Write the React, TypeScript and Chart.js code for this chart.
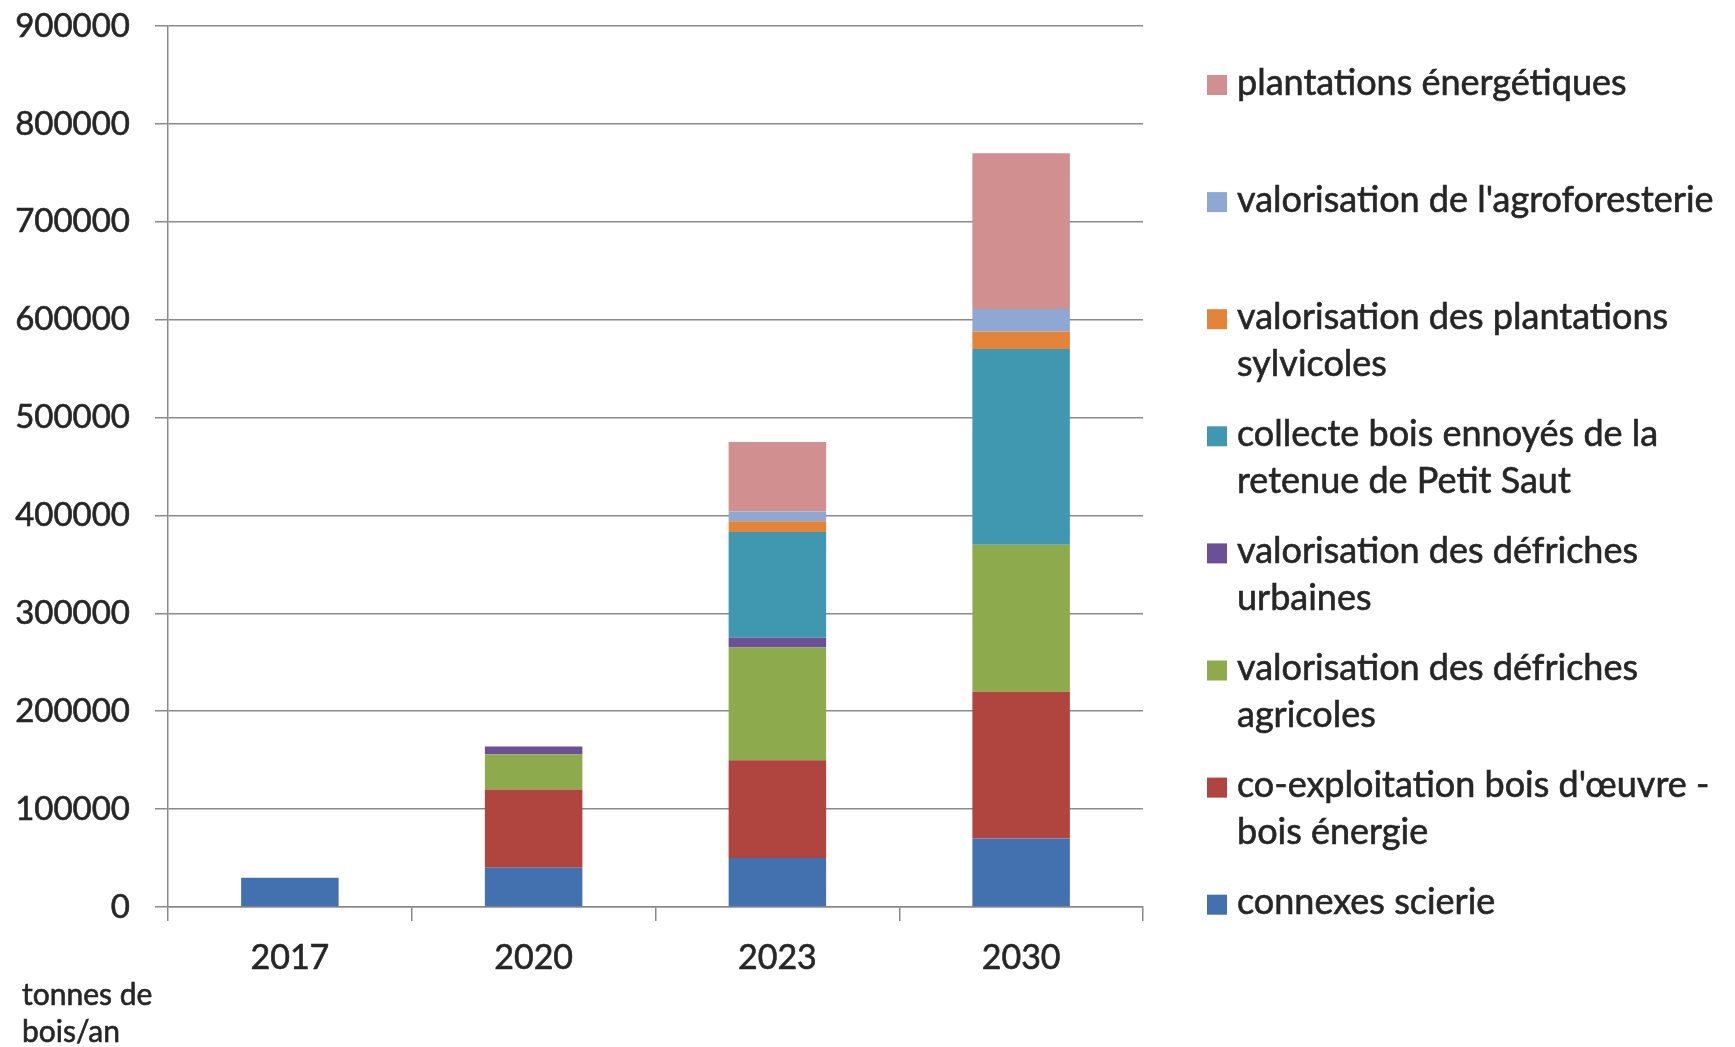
import React, { useEffect, useRef } from "react";
import { Chart, registerables } from "chart.js";

Chart.register(...registerables);

const categories = ["2017", "2020", "2023", "2030"];

const connexesScierie = [30000, 40000, 50000, 70000];
const coExploitation = [0, 80000, 100000, 150000];
const defrichesAgricoles = [0, 36000, 115000, 150000];
const defrichesUrbaines = [0, 8000, 10000, 0];
const collecteBoisEnnoyes = [0, 0, 108000, 200000];
const plantationsSylvicoles = [0, 0, 11000, 18000];
const agroforesterie = [0, 0, 10000, 23000];
const plantationsEnergetiques = [0, 0, 71000, 159000];

const yTicks = [0, 100000, 200000, 300000, 400000, 500000, 600000, 700000, 800000, 900000];

const seriesLabels: string[][] = [
  ["connexes scierie"],
  ["co-exploitation bois d'œuvre -", "bois énergie"],
  ["valorisation des défriches", "agricoles"],
  ["valorisation des défriches", "urbaines"],
  ["collecte bois ennoyés de la", "retenue de Petit Saut"],
  ["valorisation des plantations", "sylvicoles"],
  ["valorisation de l'agroforesterie"],
  ["plantations énergétiques"],
];

const seriesValues = [
  connexesScierie,
  coExploitation,
  defrichesAgricoles,
  defrichesUrbaines,
  collecteBoisEnnoyes,
  plantationsSylvicoles,
  agroforesterie,
  plantationsEnergetiques,
];

const seriesColors = [
  "#4370AE",
  "#B0443F",
  "#8DAA4C",
  "#6B5096",
  "#4098B0",
  "#E3843A",
  "#8FA8D3",
  "#D18F8F",
];

const axisTitleLines = ["tonnes de", "bois/an"];

const FONT = "Lato, 'Open Sans', sans-serif";
const TEXT = "#262626";
const GRID = "#8a8a8a";

const legendPlugin = {
  id: "sideLegend",
  afterDraw(chart: any) {
    const ctx = chart.ctx as CanvasRenderingContext2D;
    ctx.save();
    ctx.font = `36px ${FONT}`;
    ctx.textBaseline = "middle";
    ctx.textAlign = "left";
    ctx.strokeStyle = TEXT;
    ctx.lineWidth = 0.6;
    const n = chart.data.datasets.length;
    const x0 = 1207;
    const textX = 1237;
    const top = 83;
    const step = 117.1;
    const lineH = 47;
    for (let i = 0; i < n; i++) {
      const ds = chart.data.datasets[n - 1 - i];
      const lines = seriesLabels[n - 1 - i];
      const y = top + i * step;
      ctx.fillStyle = ds.backgroundColor as string;
      ctx.fillRect(x0, y - 8, 20, 20);
      ctx.fillStyle = TEXT;
      lines.forEach((t, j) => {
        ctx.fillText(t, textX, y + j * lineH);
        ctx.strokeText(t, textX, y + j * lineH);
      });
    }
    // axis unit title
    ctx.font = `30px ${FONT}`;
    ctx.textBaseline = "alphabetic";
    axisTitleLines.forEach((t, j) => {
      ctx.fillText(t, 22, 1005 + j * 37);
      ctx.strokeText(t, 22, 1005 + j * 37);
    });
    ctx.restore();
  },
};

export default function App() {
  const ref = useRef<HTMLCanvasElement | null>(null);
  useEffect(() => {
    if (!ref.current) return;
    const chart = new Chart(ref.current, {
      type: "bar",
      data: {
        labels: categories,
        datasets: seriesValues.map((vals, i) => ({
          label: seriesLabels[i].join(" "),
          data: vals,
          backgroundColor: seriesColors[i],
          borderWidth: 0,
          barPercentage: 0.4,
          categoryPercentage: 1,
        })),
      },
      options: {
        responsive: false,
        animation: false,
        layout: { padding: { left: 0, top: 26, right: 592, bottom: 0 } },
        plugins: {
          legend: { display: false },
          tooltip: { enabled: false },
          title: { display: false },
        },
        scales: {
          x: {
            stacked: true,
            offset: true,
            grid: {
              display: true,
              drawOnChartArea: false,
              drawTicks: true,
              tickLength: 14,
              offset: true,
              color: GRID,
              lineWidth: 1.5,
            },
            border: { display: true, color: GRID, width: 1.5 },
            ticks: {
              color: TEXT,
              font: { family: FONT, size: 34 },
              padding: 17,
              textStrokeColor: TEXT,
              textStrokeWidth: 0.6,
            },
            afterFit: (s: any) => {
              s.height = 140;
            },
          },
          y: {
            stacked: true,
            min: 0,
            max: 900000,
            afterBuildTicks: (s: any) => {
              s.ticks = yTicks.map((v) => ({ value: v }));
            },
            grid: {
              color: GRID,
              lineWidth: 1.5,
              drawTicks: true,
              tickLength: 13,
            },
            border: { display: true, color: GRID, width: 1.5 },
            ticks: {
              color: TEXT,
              font: { family: FONT, size: 33 },
              padding: 25,
              textStrokeColor: TEXT,
              textStrokeWidth: 0.6,
              callback: (v: any) => String(v),
            },
            afterFit: (s: any) => {
              s.width = 168;
              s.paddingTop = 0;
              s.paddingBottom = 0;
            },
          },
        },
      },
      plugins: [legendPlugin],
    });
    return () => chart.destroy();
  }, []);
  return (
    <div style={{ position: "fixed", left: 0, top: 0, width: 1735, height: 1047, background: "#fff" }}>
      <canvas ref={ref} width={1735} height={1047} />
    </div>
  );
}
